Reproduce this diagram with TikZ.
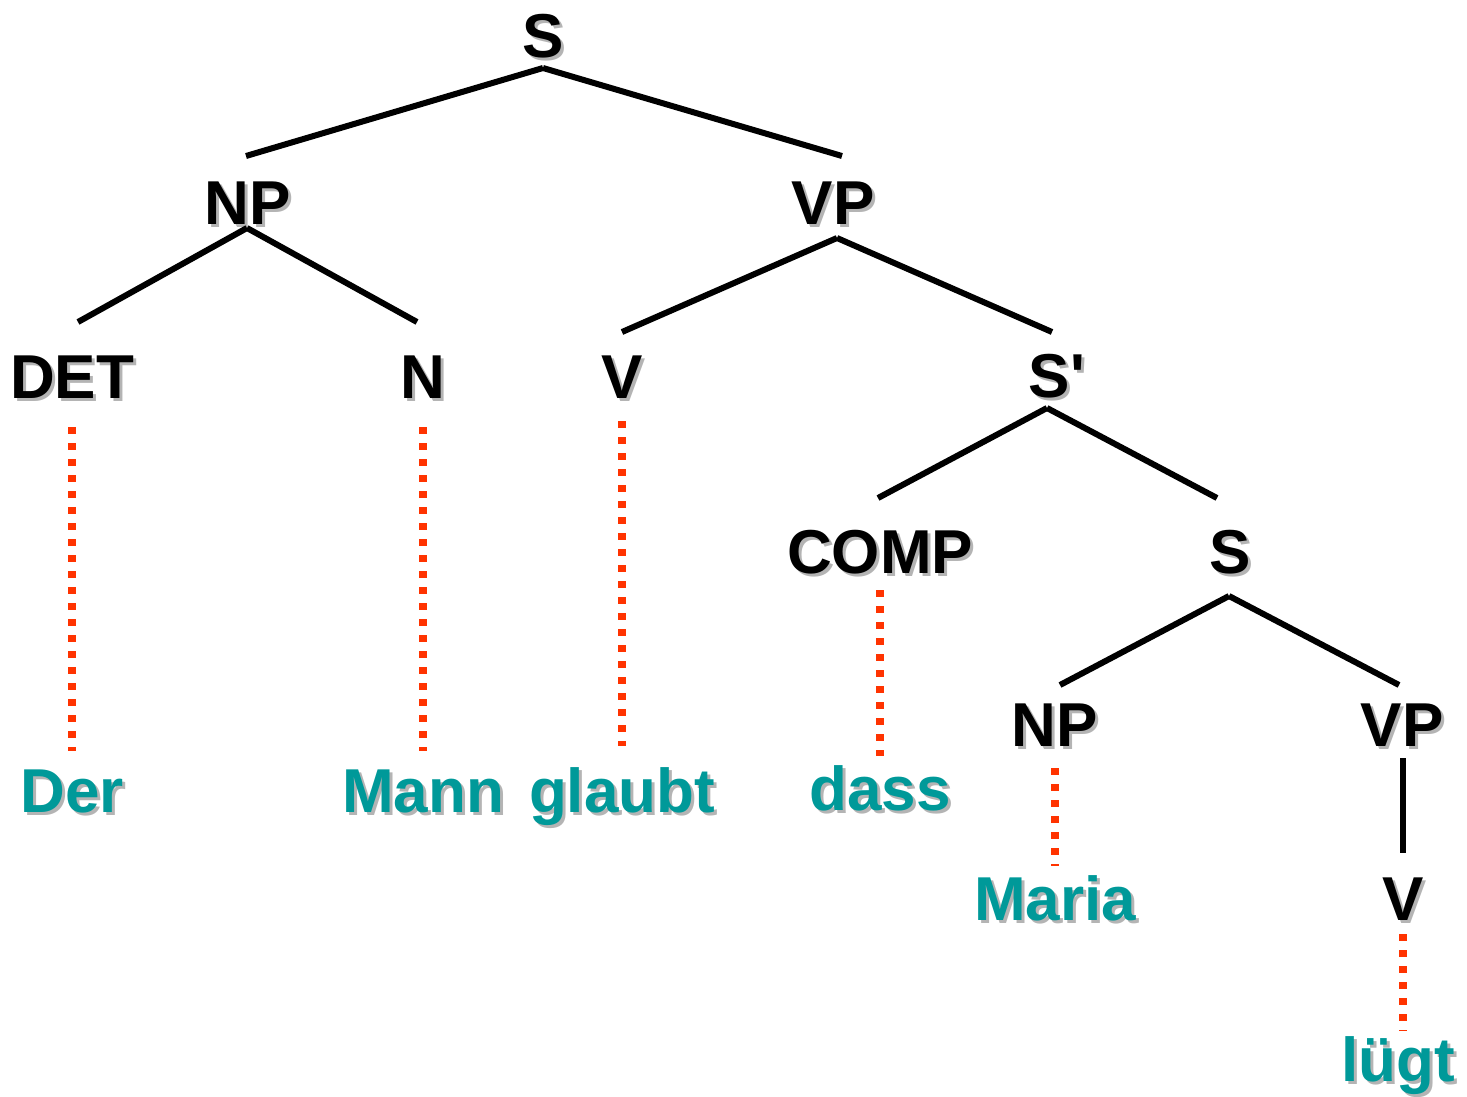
\documentclass[tikz,border=0pt]{standalone}
\usepackage{fontspec}
\setmainfont{Liberation Sans}[Ligatures=TeXOff]
\definecolor{wordteal}{RGB}{0,153,153}
\definecolor{dotred}{RGB}{255,51,0}
\definecolor{shadowgray}{RGB}{180,180,180}
\newcommand{\shtext}[2]{\rlap{\hspace{3pt}\raisebox{-3pt}{\color{shadowgray}#2}}{\color{#1}#2}}
\tikzset{
  lbl/.style={inner sep=0pt, outer sep=0pt, text height=45pt, text depth=0pt, anchor=south,
    font=\fontsize{62}{70}\selectfont\bfseries},
  cat/.style={lbl},
  word/.style={lbl},
  branch/.style={line width=6pt, black},
  dotline/.style={line width=8pt, dotred, dash pattern=on 7pt off 9pt},
}
\begin{document}
\begin{tikzpicture}[x=1pt,y=-1pt]
\useasboundingbox (0,0) rectangle (1467,1096);
% categories (anchor south = baseline)
\node[cat] (S0) at (543,57) {\shtext{black}{S}};
\node[cat] (NP1) at (248,224) {\shtext{black}{NP}};
\node[cat] (VP1) at (833,224) {\shtext{black}{VP}};
\node[cat] (DET) at (72,398) {\shtext{black}{DET}};
\node[cat] (N) at (423,398) {\shtext{black}{N}};
\node[cat] (V1) at (622,398) {\shtext{black}{V}};
\node[cat] (Sp) at (1057,397) {\shtext{black}{S'}};
\node[cat] (COMP) at (880,573) {\shtext{black}{COMP}};
\node[cat] (S2) at (1230,573) {\shtext{black}{S}};
\node[cat] (NP2) at (1055,746) {\shtext{black}{NP}};
\node[cat] (VP2) at (1402,746) {\shtext{black}{VP}};
\node[cat] (V2) at (1403,920) {\shtext{black}{V}};
% words
\node[word] (Der) at (72,812) {\shtext{wordteal}{Der}};
\node[word] (Mann) at (423,812) {\shtext{wordteal}{Mann}};
\node[word] (glaubt) at (622,812) {\shtext{wordteal}{glaubt}};
\node[word] (dass) at (880,810) {\shtext{wordteal}{dass}};
\node[word] (Maria) at (1055,920) {\shtext{wordteal}{Maria}};
\node[word] (lugt) at (1398,1081) {\shtext{wordteal}{lügt}};
% branches
\draw[branch] ([yshift=-11pt]S0.south) -- ([xshift=-2pt,yshift=23pt]NP1.north);
\draw[branch] ([yshift=-11pt]S0.south) -- ([xshift=9pt,yshift=23pt]VP1.north);
\draw[branch] ([xshift=-1pt,yshift=-4pt]NP1.south) -- ([xshift=6pt,yshift=31pt]DET.north);
\draw[branch] ([xshift=-1pt,yshift=-4pt]NP1.south) -- ([xshift=-6pt,yshift=31pt]N.north);
\draw[branch] ([xshift=4pt,yshift=-14pt]VP1.south) -- ([yshift=21pt]V1.north);
\draw[branch] ([xshift=4pt,yshift=-14pt]VP1.south) -- ([xshift=-5pt,yshift=20pt]Sp.north);
\draw[branch] ([xshift=-10pt,yshift=-11pt]Sp.south) -- ([xshift=-2pt,yshift=30pt]COMP.north);
\draw[branch] ([xshift=-10pt,yshift=-11pt]Sp.south) -- ([xshift=-13pt,yshift=30pt]S2.north);
\draw[branch] ([xshift=-1pt,yshift=-23pt]S2.south) -- ([xshift=5pt,yshift=16pt]NP2.north);
\draw[branch] ([xshift=-1pt,yshift=-23pt]S2.south) -- ([xshift=-3pt,yshift=16pt]VP2.north);
\draw[branch] ([xshift=1pt,yshift=-12pt]VP2.south) -- ([yshift=22pt]V2.north);
% dotted lexical links
\draw[dotline] ([yshift=-29pt]DET.south) -- ([yshift=16pt]Der.north);
\draw[dotline] ([yshift=-29pt]N.south) -- ([yshift=16pt]Mann.north);
\draw[dotline] ([yshift=-23pt]V1.south) -- ([yshift=21pt]glaubt.north);
\draw[dotline] ([yshift=-17pt]COMP.south) -- ([yshift=9pt]dass.north);
\draw[dotline] ([yshift=-22pt]NP2.south) -- ([yshift=9pt]Maria.north);
\draw[dotline] ([xshift=5pt,yshift=-14pt]lugt.north |- V2.south) -- ([xshift=5pt,yshift=5pt]lugt.north);
\end{tikzpicture}
\end{document}
